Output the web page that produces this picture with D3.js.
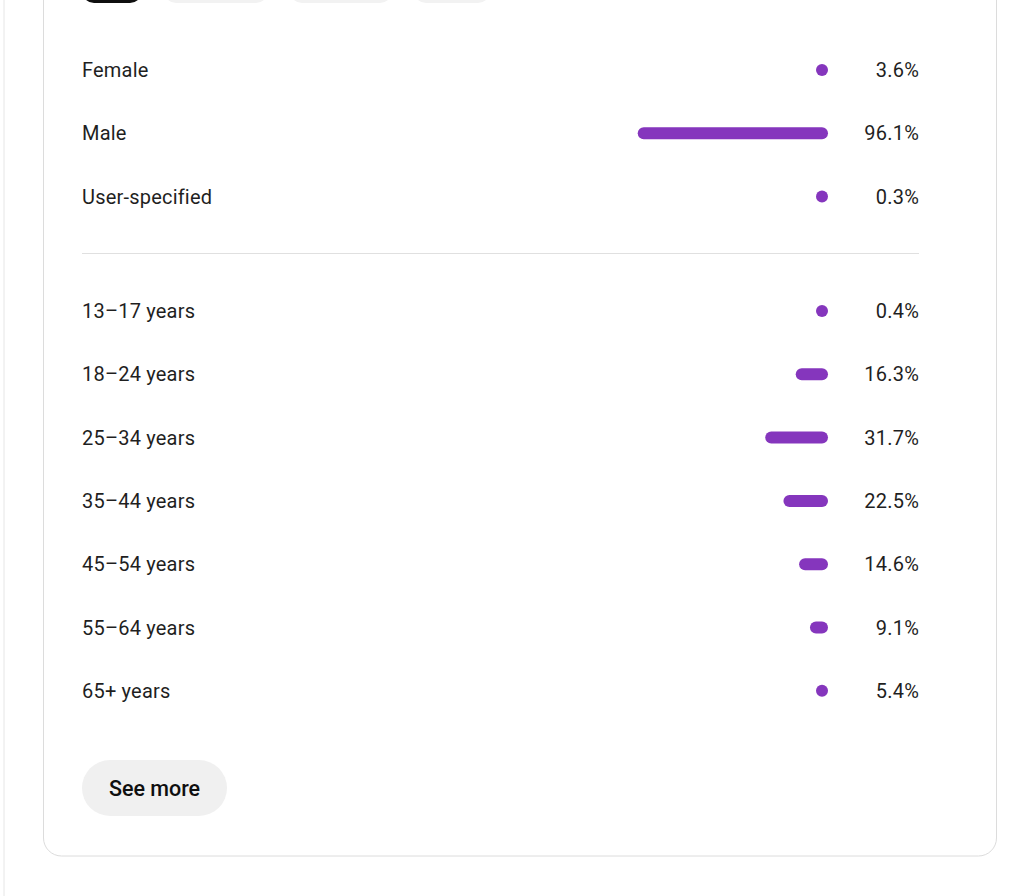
<!DOCTYPE html>
<html><head><meta charset="utf-8">
<script src="https://cdn.jsdelivr.net/npm/d3@7"></script>
<style>body{margin:0;background:#fff;font-family:Roboto,sans-serif}</style>
</head><body><div id="chart"></div>
<script>
const genderLabels = ["Female", "Male", "User-specified"]
const genderValues = [3.6, 96.1, 0.3]
const ageLabels = ["13–17 years", "18–24 years", "25–34 years", "35–44 years", "45–54 years", "55–64 years", "65+ years"]
const ageValues = [0.4, 16.3, 31.7, 22.5, 14.6, 9.1, 5.4]

const svg = d3.select("#chart").append("svg").attr("width", 1024).attr("height", 896)

// page edge + card
svg.append("line").attr("x1", 4).attr("x2", 4).attr("y1", 0).attr("y2", 896).style("stroke", "#e6e6e6")
svg.append("rect").attr("x", 43.5).attr("y", -30).attr("width", 953).attr("height", 886)
  .attr("rx", 18).style("fill", "#fff").style("stroke", "#dcdcdc")

// tabs (cut off at top)
const tabs = [[82, 60, "#0f0f0f"], [164, 104, "#f2f2f2"], [290, 102, "#f2f2f2"], [414, 76, "#f2f2f2"]]
svg.selectAll(".tab").data(tabs).join("rect")
  .attr("x", d => d[0]).attr("y", -30).attr("width", d => d[1]).attr("height", 33)
  .attr("rx", 12).style("fill", d => d[2])

const x = d3.scaleLinear().domain([0, 100]).range([0, 198])
const barEnd = 828

function drawRows(labels, values, y0) {
  const y = d3.scalePoint().domain(labels).range([y0, y0 + 63.3 * (labels.length - 1)])
  const g = svg.append("g")
  g.selectAll(".lbl").data(labels).join("text")
    .attr("x", 82).attr("y", d => y(d)).attr("dy", "0.35em")
    .style("font-size", "20px").style("letter-spacing", "0.2px").style("fill", "#1f1f1f").text(d => d)
  g.selectAll(".bar").data(values).join("rect")
    .attr("x", d => barEnd - Math.max(12, x(d)))
    .attr("y", (d, i) => y(labels[i]) - 6)
    .attr("width", d => Math.max(12, x(d))).attr("height", 12).attr("rx", 6)
    .style("fill", "#8536bd")
  g.selectAll(".val").data(values).join("text")
    .attr("x", 919).attr("y", (d, i) => y(labels[i])).attr("dy", "0.35em")
    .attr("text-anchor", "end").style("font-size", "20px").style("letter-spacing", "0.2px").style("fill", "#1f1f1f")
    .text(d => d.toFixed(1) + "%")
}

drawRows(genderLabels, genderValues, 70)
svg.append("line").attr("x1", 82).attr("x2", 919).attr("y1", 253.5).attr("y2", 253.5).style("stroke", "#e0e0e0")
drawRows(ageLabels, ageValues, 311)

svg.append("rect").attr("x", 82).attr("y", 760).attr("width", 145).attr("height", 56).attr("rx", 28).style("fill", "#f0f0f0")
svg.append("text").attr("x", 154.5).attr("y", 788).attr("dy", "0.35em").attr("text-anchor", "middle")
  .style("font-size", "21.5px").style("font-weight", 500).style("fill", "#0f0f0f").text("See more")
</script></body></html>
